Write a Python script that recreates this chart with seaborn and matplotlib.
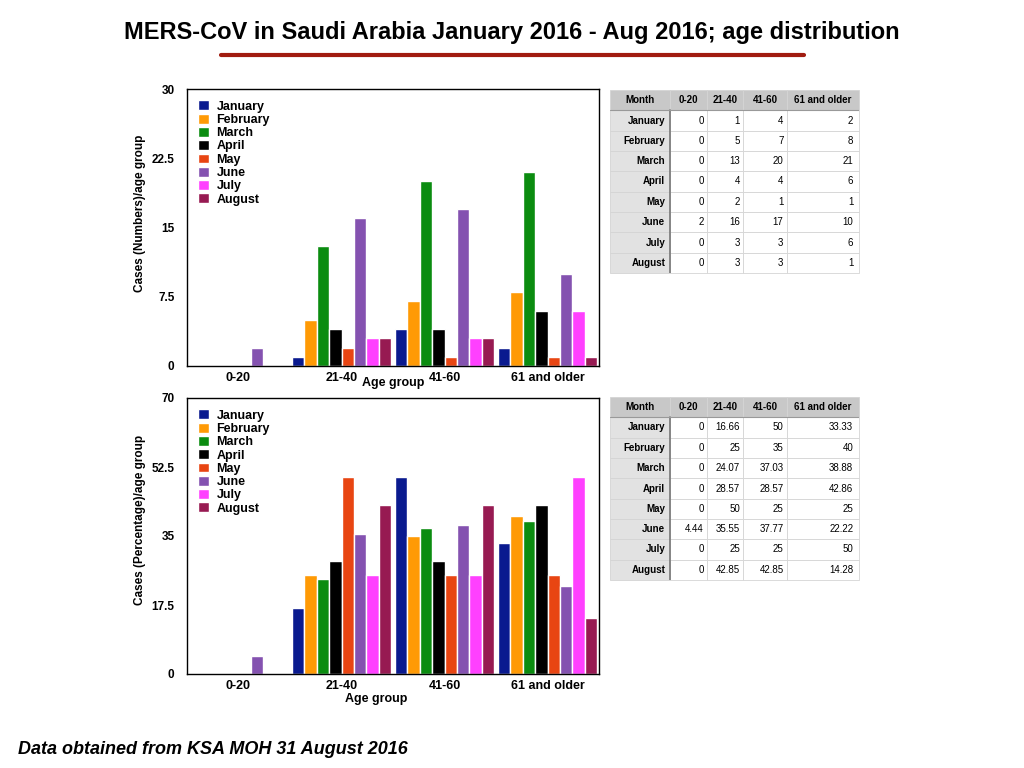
import numpy as np
import pandas as pd
import matplotlib
matplotlib.use("Agg")
import matplotlib.pyplot as plt
from matplotlib.patches import Patch
from matplotlib.lines import Line2D
import seaborn as sns

sns.set_theme(style='white')
plt.rcParams['font.family'] = ['Liberation Sans', 'DejaVu Sans']
plt.rcParams.update({'axes.edgecolor': 'black', 'text.color': 'black',
                     'axes.labelcolor': 'black', 'xtick.color': 'black',
                     'ytick.color': 'black'})

months = ["January", "February", "March", "April", "May", "June", "July", "August"]
age_groups = ["0-20", "21-40", "41-60", "61 and older"]
month_colors = ["#0a1a8f", "#ff9a05", "#0b8c10", "#000000",
                "#e84512", "#8452b0", "#ff40ff", "#971a52"]

# rows = months, columns = age groups
case_counts = [
    [0, 1, 4, 2],
    [0, 5, 7, 8],
    [0, 13, 20, 21],
    [0, 4, 4, 6],
    [0, 2, 1, 1],
    [2, 16, 17, 10],
    [0, 3, 3, 6],
    [0, 3, 3, 1],
]
case_pcts = [
    [0, 16.66, 50, 33.33],
    [0, 25, 35, 40],
    [0, 24.07, 37.03, 38.88],
    [0, 28.57, 28.57, 42.86],
    [0, 50, 25, 25],
    [4.44, 35.55, 37.77, 22.22],
    [0, 25, 25, 50],
    [0, 42.85, 42.85, 14.28],
]
count_ticks = [0, 7.5, 15, 22.5, 30]
pct_ticks = [0, 17.5, 35, 52.5, 70]


def draw_bars(ax, values, ticks, ylabel, xlab_xy, ylab_xy):
    df = pd.DataFrame(values, index=months, columns=age_groups)
    df = df.reset_index().melt(id_vars='index', var_name='Age group', value_name='value')
    sns.barplot(data=df, x='Age group', y='value', hue='index', palette=month_colors,
                width=0.96, edgecolor='white', linewidth=1, saturation=1,
                legend=False, ax=ax)
    ax.set_xlim(-0.5, 3.5)
    ax.set_ylim(0, ticks[-1])
    ax.set_yticks(ticks)
    ax.set_yticklabels(['%g' % t for t in ticks], fontweight='bold', fontsize=8.5)
    ax.set_xticks(range(len(age_groups)))
    ax.set_xticklabels(age_groups, fontweight='bold', fontsize=9)
    ax.tick_params(axis='y', pad=9, length=0)
    ax.tick_params(axis='x', pad=4, length=0)
    ax.set_xlabel('Age group', fontweight='bold', fontsize=9)
    ax.set_ylabel(ylabel, fontweight='bold', fontsize=8.5)
    ax.xaxis.set_label_coords(*xlab_xy)
    ax.yaxis.set_label_coords(*ylab_xy)
    for s in ax.spines.values():
        s.set_color('black')
        s.set_linewidth(1)
    handles = [Patch(facecolor=c, label=m) for m, c in zip(months, month_colors)]
    ax.legend(handles=handles, loc='upper left', frameon=False,
              handlelength=0.85, handleheight=0.85, handletextpad=0.6,
              labelspacing=0.08, borderaxespad=0.5,
              prop={'weight': 'bold', 'size': 9})


def draw_table(ax, values):
    ax.axis('off')
    cells = [[m] + ['%g' % v for v in row] for m, row in zip(months, values)]
    tab = ax.table(cellText=cells, colLabels=['Month'] + age_groups,
                   cellLoc='right', bbox=[0, 0, 1, 1],
                   colWidths=[60, 37, 36, 44, 72])
    tab.auto_set_font_size(False)
    for (r, c), cell in tab.get_celld().items():
        cell.set_edgecolor('#d4d4d4')
        cell.set_linewidth(0.6)
        txt = cell.get_text()
        txt.set_fontsize(7)
        if r == 0:
            cell.set_facecolor('#c8c8c8')
            txt.set_fontweight('bold')
            cell._loc = 'left' if c < 4 else 'center'
            cell.PAD = 0.06
        elif c == 0:
            cell.set_facecolor('#e2e2e2')
            txt.set_fontweight('bold')
            cell.PAD = 0.08
        else:
            cell.set_facecolor('white')
            cell.PAD = 0.08
    ax.plot([60 / 249, 60 / 249], [0, 8 / 9], color='#777777', lw=1.2)
    ax.plot([0, 1], [8 / 9, 8 / 9], color='#999999', lw=0.8)
    ax.set_xlim(0, 1)
    ax.set_ylim(0, 1)


fig = plt.figure(figsize=(10.24, 7.68), dpi=100)
ax1 = fig.add_axes([187 / 1024, 1 - 366 / 768, 412 / 1024, 277 / 768])
ax2 = fig.add_axes([187 / 1024, 1 - 674 / 768, 412 / 1024, 276 / 768])

draw_bars(ax1, case_counts, count_ticks, 'Cases (Numbers)/age group',
          (0.5, -0.04), (-0.1, 0.55))
draw_bars(ax2, case_pcts, pct_ticks, 'Cases (Percentage)/age group',
          (0.46, -0.07), (-0.1, 0.56))

t1 = fig.add_axes([610 / 1024, 1 - 273 / 768, 249 / 1024, 183 / 768])
draw_table(t1, case_counts)
t2 = fig.add_axes([610 / 1024, 1 - 580 / 768, 249 / 1024, 183 / 768])
draw_table(t2, case_pcts)

fig.text(0.5, 1 - 32 / 768, 'MERS-CoV in Saudi Arabia January 2016 - Aug 2016; age distribution',
         ha='center', va='center', fontsize=17, fontweight='bold')
fig.add_artist(Line2D([221 / 1024, 804 / 1024], [1 - 55 / 768] * 2,
                      color='#a11c10', lw=3))
fig.text(18 / 1024, 1 - 750 / 768, 'Data obtained from KSA MOH 31 August 2016',
         ha='left', va='center', fontsize=13, fontweight='bold', style='italic')

fig.savefig('out.png', dpi=100)
